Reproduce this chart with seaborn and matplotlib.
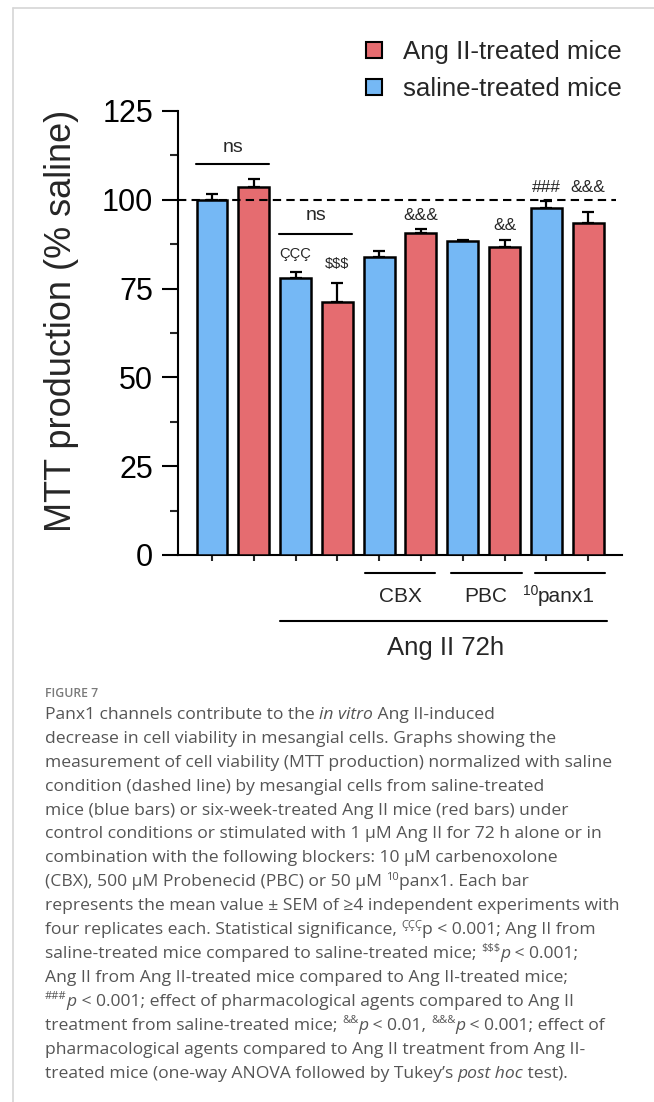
import matplotlib
matplotlib.use("Agg")
import matplotlib.pyplot as plt
from matplotlib.patches import Patch
from matplotlib.lines import Line2D
from matplotlib.ticker import MultipleLocator
from matplotlib.font_manager import FontProperties
import seaborn as sns
import pandas as pd

# ---- data -------------------------------------------------------------
bar_labels = ["Ctrl saline", "Ctrl AngII", "AngII saline", "AngII AngII",
              "CBX saline", "CBX AngII", "PBC saline", "PBC AngII",
              "10panx1 saline", "10panx1 AngII"]
mice = ["saline-treated mice", "Ang II-treated mice"] * 5
mtt_mean = [100.0, 103.7, 78.1, 71.3, 83.9, 90.7, 88.4, 86.8, 97.6, 93.6]
mtt_sem = [1.6, 2.1, 1.7, 5.4, 1.6, 1.1, 0.3, 2.0, 2.2, 2.9]
sig_marks = ["", "", "ÇÇÇ", r"\$\$\$", "", "&&&", "", "&&", "###", "&&&"]
sig_heights = [0, 0, 83.6, 80.8, 0, 94.3, 0, 91.5, 102.2, 102.2]
sig_sizes = [0, 0, 10.5, 10.5, 0, 12.5, 0, 12.5, 12.5, 12.5]
y_ticks = [0, 25, 50, 75, 100, 125]

BLUE = "#75B8F5"
RED = "#E56C70"
palette = {"saline-treated mice": BLUE, "Ang II-treated mice": RED}

# caption: each line is a list of (text, style); n = normal, i = italic,
# s = superscript
caption_lines = [
    [("Panx1 channels contribute to the ", "n"), ("in vitro", "i"),
     (" Ang II-induced", "n")],
    [("decrease in cell viability in mesangial cells. Graphs showing the", "n")],
    [("measurement of cell viability (MTT production) normalized with saline", "n")],
    [("condition (dashed line) by mesangial cells from saline-treated", "n")],
    [("mice (blue bars) or six-week-treated Ang II mice (red bars) under", "n")],
    [("control conditions or stimulated with 1 µM Ang II for 72 h alone or in", "n")],
    [("combination with the following blockers: 10 µM carbenoxolone", "n")],
    [("(CBX), 500 µM Probenecid (PBC) or 50 µM ", "n"), ("10", "s"),
     ("panx1. Each bar", "n")],
    [("represents the mean value ± SEM of ≥4 independent experiments with", "n")],
    [("four replicates each. Statistical significance, ", "n"), ("ÇÇÇ", "s"),
     ("p < 0.001; Ang II from", "n")],
    [("saline-treated mice compared to saline-treated mice; ", "n"),
     ("$$$", "s"), ("p", "i"), (" < 0.001;", "n")],
    [("Ang II from Ang II-treated mice compared to Ang II-treated mice;", "n")],
    [("###", "s"), ("p", "i"),
     (" < 0.001; effect of pharmacological agents compared to Ang II", "n")],
    [("treatment from saline-treated mice; ", "n"), ("&&", "s"), ("p", "i"),
     (" < 0.01, ", "n"), ("&&&", "s"), ("p", "i"), (" < 0.001; effect of", "n")],
    [("pharmacological agents compared to Ang II treatment from Ang II-", "n")],
    [("treated mice (one-way ANOVA followed by Tukey’s ", "n"),
     ("post hoc", "i"), (" test).", "n")],
]

# ---- style ------------------------------------------------------------
sns.set_style("ticks")
plt.rcParams["font.family"] = ["Liberation Sans", "DejaVu Sans"]

W, H = 654, 1102
fig = plt.figure(figsize=(W / 100, H / 100), dpi=100)
fig.patch.set_facecolor("white")

# axes: y-axis at x=178 px, x-axis at y=555 px, top of axis (125) at y=111 px
ax = fig.add_axes([178 / W, 1 - 555 / H, (622 - 178) / W, 444 / H])

df = pd.DataFrame({"condition": bar_labels, "mtt": mtt_mean, "mice": mice})
sns.barplot(data=df, x="condition", y="mtt", hue="mice", order=bar_labels,
            palette=palette, dodge=False, width=0.74, saturation=1,
            edgecolor="black", linewidth=1.8, errorbar=None, legend=False,
            ax=ax, zorder=3)

xpos = list(range(len(bar_labels)))
ax.errorbar(xpos, mtt_mean, yerr=[[0] * len(mtt_sem), mtt_sem], fmt="none",
            ecolor="black", elinewidth=1.6, capsize=4.3, capthick=1.6, zorder=2)

ax.set_xlim(-0.813, 9.81)
ax.set_ylim(0, 125)
ax.set_yticks(y_ticks)
ax.set_yticklabels([str(t) for t in y_ticks], fontsize=22)
ax.yaxis.set_minor_locator(MultipleLocator(12.5))
ax.set_xticks(xpos)
ax.set_xticklabels([])
ax.set_xlabel("")
ax.tick_params(axis="y", which="major", length=11.5, width=1.5, pad=6.5,
               direction="out", colors="black")
ax.tick_params(axis="y", which="minor", length=5.8, width=1.5, direction="out")
ax.tick_params(axis="x", which="major", length=4.3, width=1.5, direction="out")
for side in ("top", "right"):
    ax.spines[side].set_visible(False)
for side in ("left", "bottom"):
    ax.spines[side].set_linewidth(1.5)
    ax.spines[side].set_color("black")
ax.set_facecolor("white")
ax.grid(False)

ax.set_ylabel("MTT production (% saline)", fontsize=26)
ax.yaxis.set_label_coords(-0.222, 0.528)

# saline reference level
ax.axhline(100, xmin=0, xmax=0.986, color="black", lw=1.5,
           dashes=(4, 2.5), zorder=4)

# significance brackets and marks
ax.plot([-0.38, 1.36], [110.1, 110.1], color="black", lw=1.5, clip_on=False)
ax.text(0.5, 113.5, "ns", ha="center", va="baseline", fontsize=14)
ax.plot([1.6, 3.35], [90.4, 90.4], color="black", lw=1.5, clip_on=False)
ax.text(2.5, 94.3, "ns", ha="center", va="baseline", fontsize=14)
for x, mark, h, fs in zip(xpos, sig_marks, sig_heights, sig_sizes):
    if mark:
        ax.text(x, h, mark, ha="center", va="baseline", fontsize=fs)

# treatment group annotations below the x axis
tr = ax.get_xaxis_transform()
groups = [(3.66, 5.33, "CBX", 4.51), (5.72, 7.42, "PBC", 6.56)]
for x0, x1, lab, xc in groups:
    ax.plot([x0, x1], [-0.0405, -0.0405], color="black", lw=1.5,
            transform=tr, clip_on=False)
    ax.text(xc, -0.105, lab, transform=tr, ha="center", va="baseline",
            fontsize=15)
ax.plot([7.73, 9.4], [-0.0405, -0.0405], color="black", lw=1.5,
        transform=tr, clip_on=False)
ax.text(7.80, -0.105, "panx1", transform=tr, ha="left", va="baseline",
        fontsize=15)
ax.text(7.80, -0.0901, "10", transform=tr, ha="right", va="baseline",
        fontsize=10)
ax.plot([1.63, 9.45], [-0.1486, -0.1486], color="black", lw=1.5,
        transform=tr, clip_on=False)
ax.text(5.6, -0.2252, "Ang II 72h", transform=tr, ha="center",
        va="baseline", fontsize=18.5)

# legend
handles = [Patch(facecolor=RED, edgecolor="black", linewidth=1.5),
           Patch(facecolor=BLUE, edgecolor="black", linewidth=1.5)]
fig.legend(handles=handles,
           labels=["Ang II-treated mice", "saline-treated mice"],
           loc="upper left", bbox_to_anchor=(366 / W, 1 - 40 / H),
           frameon=False, fontsize=18.6, handlelength=0.6, handleheight=0.6,
           handletextpad=0.85, labelspacing=0.5, borderpad=0,
           borderaxespad=0)

# page frame
frame_kw = dict(color="#d6d6d6", lw=1.2, transform=fig.transFigure)
fig.add_artist(Line2D([13 / W, 1], [1 - 7.5 / H, 1 - 7.5 / H], **frame_kw))
fig.add_artist(Line2D([13 / W, 13 / W], [0, 1 - 7.5 / H], **frame_kw))

# caption
CAP_FAMILY = ["Open Sans", "DejaVu Sans"]
CAP_COLOR = "#555555"
CAP_SIZE = 12.6
SUP_SIZE = 8.0
fig.text(45 / W, 1 - 697 / H, "FIGURE 7", fontsize=8.8, fontweight="semibold",
         color="#7a7a7a", family=CAP_FAMILY, ha="left", va="baseline")

renderer = fig.canvas.get_renderer()


def seg_props(style):
    size = SUP_SIZE if style == "s" else CAP_SIZE
    return FontProperties(family=CAP_FAMILY, size=size,
                          style="italic" if style == "i" else "normal")


def seg_width(text, prop):
    # bracket the string so leading/trailing spaces are measured too
    w_full = renderer.get_text_width_height_descent("|" + text + "|", prop, False)[0]
    w_bars = renderer.get_text_width_height_descent("||", prop, False)[0]
    return w_full - w_bars


for i, line in enumerate(caption_lines):
    yb = 719 + 23.9 * i
    x = 45.0
    for text, style in line:
        prop = seg_props(style)
        dy = 6.5 if style == "s" else 0.0
        shown = text.replace("$", r"\$")
        fig.text(x / W, 1 - (yb - dy) / H, shown, fontproperties=prop,
                 color=CAP_COLOR, ha="left", va="baseline")
        x += seg_width(text, prop)

fig.savefig("out.png", dpi=100, facecolor="white")
